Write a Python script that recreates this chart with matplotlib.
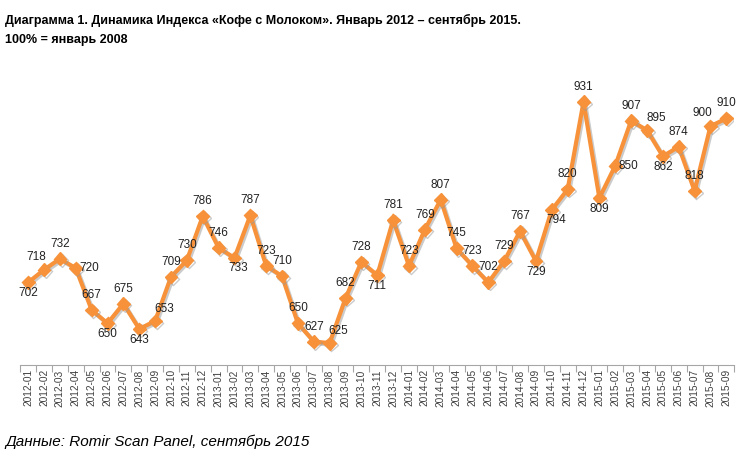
import matplotlib.pyplot as plt
import matplotlib.patheffects as pe

months = ["2012-01", "2012-02", "2012-03", "2012-04", "2012-05", "2012-06",
          "2012-07", "2012-08", "2012-09", "2012-10", "2012-11", "2012-12",
          "2013-01", "2013-02", "2013-03", "2013-04", "2013-05", "2013-06",
          "2013-07", "2013-08", "2013-09", "2013-10", "2013-11", "2013-12",
          "2014-01", "2014-02", "2014-03", "2014-04", "2014-05", "2014-06",
          "2014-07", "2014-08", "2014-09", "2014-10", "2014-11", "2014-12",
          "2015-01", "2015-02", "2015-03", "2015-04", "2015-05", "2015-06",
          "2015-07", "2015-08", "2015-09"]
index_values = [702, 718, 732, 720, 667, 650, 675, 643, 653, 709, 730, 786,
                746, 733, 787, 723, 710, 650, 627, 625, 682, 728, 711, 781,
                723, 769, 807, 745, 723, 702, 729, 767, 729, 794, 820, 931,
                809, 850, 907, 895, 862, 874, 818, 900, 910]

# where each value label sits relative to its point
label_pos = ["b", "al", "a", "r", "a", "b", "a", "b", "ar", "a", "a", "a",
             "a", "br", "a", "a", "a", "a", "a", "ar", "a", "a", "b", "a",
             "a", "a", "a", "a", "a", "a", "a", "a", "b", "br", "a", "a",
             "b", "r", "a", "ar", "b", "a", "a", "al", "a"]
offsets_px = {"a": (0, 15), "b": (0, -11), "r": (13, 0), "l": (-13, 0),
              "ar": (9, 12), "al": (-8, 13), "br": (4, -10)}

orange = "#F7923A"

fig = plt.figure(figsize=(7.5, 4.67), dpi=100)
ax = fig.add_axes([0.027, 0.218, 0.952, 0.596])

x = list(range(len(months)))
ax.plot(x, index_values, color=orange, lw=3.0, marker="D", ms=6.5,
        solid_joinstyle="miter",
        path_effects=[pe.SimpleLineShadow(offset=(1.2, -1.2), shadow_color="#999999", alpha=0.5),
                      pe.Normal()])

for i, v in enumerate(index_values):
    dx, dy = offsets_px[label_pos[i]]
    ax.annotate(str(v), (i, v), xytext=(dx * 0.72, dy * 0.72),
                textcoords="offset points", ha="center", va="center",
                fontsize=8.5, family="Liberation Sans", color="#222222")

ax.set_xlim(-0.5, len(months) - 0.5)
ax.set_ylim(597, 950)
ax.set_yticks([])
for s in ["left", "right", "top"]:
    ax.spines[s].set_visible(False)
ax.spines["bottom"].set_color("#A6A6A6")

ax.set_xticks([i - 0.5 for i in range(len(months) + 1)], minor=False)
ax.set_xticklabels([])
ax.tick_params(axis="x", which="major", length=5, color="#A6A6A6", direction="out")
ax.set_xticks(x, minor=True)
ax.set_xticklabels(months, minor=True, rotation=90, fontsize=7.3,
                   family="Liberation Sans", color="#404040")
ax.tick_params(axis="x", which="minor", length=0, pad=3)

fig.text(0.007, 0.97, "Диаграмма 1. Динамика Индекса «Кофе с Молоком». Январь 2012 – сентябрь 2015.\n100% = январь 2008",
         fontsize=9, fontweight="bold", family="Liberation Sans",
         va="top", ha="left", linespacing=1.75)
fig.text(0.007, 0.055, "Данные: Romir Scan Panel, сентябрь 2015",
         fontsize=11, style="italic", family="Liberation Sans", va="center", ha="left")

fig.savefig("out.png", dpi=100)
